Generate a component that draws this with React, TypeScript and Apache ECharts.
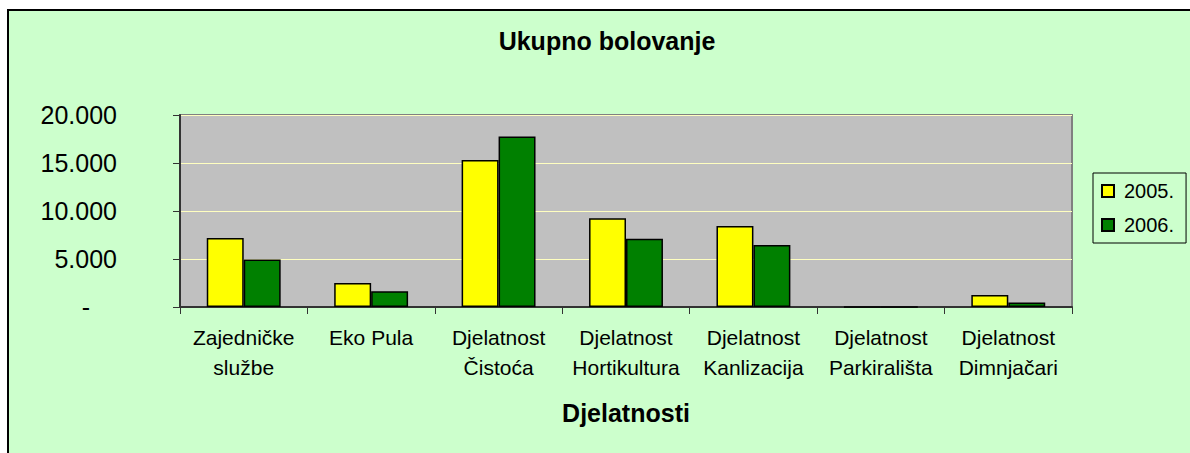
import React, { useEffect, useRef } from "react";
import * as echarts from "echarts";

const categories = [
  "Zajedničke\nslužbe",
  "Eko Pula",
  "Djelatnost\nČistoća",
  "Djelatnost\nHortikultura",
  "Djelatnost\nKanlizacija",
  "Djelatnost\nParkirališta",
  "Djelatnost\nDimnjačari",
];
const series2005 = [7200, 2500, 15300, 9250, 8450, 0, 1250];
const series2006 = [4950, 1650, 17750, 7100, 6450, 0, 480];
const seriesNames = ["2005.", "2006."];
const yTicks = { min: 0, max: 20000, interval: 5000 };

const FONT = "'Liberation Sans', Arial, sans-serif";

function fmt(v: number): string {
  if (v === 0) return "{z|-}";
  return String(v).replace(/\B(?=(\d{3})+(?!\d))/g, ".");
}

export default function App() {
  const ref = useRef<HTMLDivElement>(null);
  useEffect(() => {
    if (!ref.current) return;
    const chart = echarts.init(ref.current, undefined, { renderer: "svg" });
    chart.setOption({
      animation: false,
      backgroundColor: "#CCFFCC",
      textStyle: { fontFamily: FONT, color: "#000" },
      graphic: [
        { type: "rect", shape: { x: 0, y: 0, width: 1190, height: 9 }, style: { fill: "#fff" }, silent: true },
        { type: "rect", shape: { x: 0, y: 0, width: 7, height: 453 }, style: { fill: "#fff" }, silent: true },
        { type: "line", shape: { x1: 7, y1: 10, x2: 1190, y2: 10 }, style: { stroke: "#000", lineWidth: 2 }, silent: true },
        { type: "line", shape: { x1: 8, y1: 9, x2: 8, y2: 453 }, style: { stroke: "#000", lineWidth: 2 }, silent: true },
      ],
      title: {
        text: "Ukupno bolovanje",
        left: 602,
        top: 23,
        textAlign: "center",
        textStyle: { fontFamily: FONT, fontSize: 25, fontWeight: "bold", color: "#000" },
      },
      legend: {
        orient: "vertical",
        left: 1093,
        top: 173,
        data: seriesNames,
        icon: "rect",
        itemWidth: 12,
        itemHeight: 12,
        itemGap: 14,
        padding: [8, 12, 8, 8],
        borderColor: "#000",
        borderWidth: 1,
        backgroundColor: "#CCFFCC",
        textStyle: { fontFamily: FONT, fontSize: 20, color: "#000", padding: [0, 0, 0, 5] },
      },
      grid: {
        left: 180,
        top: 115,
        right: 118,
        bottom: 146,
        show: true,
        backgroundColor: "#C0C0C0",
        borderColor: "#808080",
        borderWidth: 2,
        containLabel: false,
      },
      xAxis: {
        type: "category",
        data: categories,
        name: "Djelatnosti",
        nameLocation: "middle",
        nameGap: 93,
        nameTextStyle: { fontFamily: FONT, fontSize: 25, fontWeight: "bold", color: "#000" },
        axisLine: { lineStyle: { color: "#333", width: 2 } },
        axisTick: { show: true, length: 7, lineStyle: { color: "#333" } },
        axisLabel: {
          fontFamily: FONT,
          fontSize: 21,
          color: "#000",
          lineHeight: 30,
          margin: 15,
          interval: 0,
        },
      },
      yAxis: {
        type: "value",
        min: yTicks.min,
        max: yTicks.max,
        interval: yTicks.interval,
        axisLine: { show: true, lineStyle: { color: "#333", width: 2 } },
        axisTick: { show: true, length: 7, lineStyle: { color: "#333" } },
        splitLine: { show: true, lineStyle: { color: "#FFFFC0", width: 1 } },
        axisLabel: {
          fontFamily: FONT,
          fontSize: 25,
          color: "#000",
          margin: 63,
          formatter: fmt,
          rich: { z: { fontFamily: FONT, fontSize: 25, color: "#000", padding: [0, 27, 0, 0] } },
        },
      },
      series: [
        {
          name: seriesNames[0],
          type: "bar",
          data: series2005,
          barGap: "0%",
          barCategoryGap: "42%",
          itemStyle: { color: "#FFFF00", borderColor: "#000", borderWidth: 1.5 },
        },
        {
          name: seriesNames[1],
          type: "bar",
          data: series2006,
          barGap: "0%",
          barCategoryGap: "42%",
          itemStyle: { color: "#008000", borderColor: "#000", borderWidth: 1.5 },
        },
      ],
    });
    return () => chart.dispose();
  }, []);
  return (
    <div
      ref={ref}
      style={{ position: "absolute", left: 0, top: 0, width: 1190, height: 453 }}
    />
  );
}
